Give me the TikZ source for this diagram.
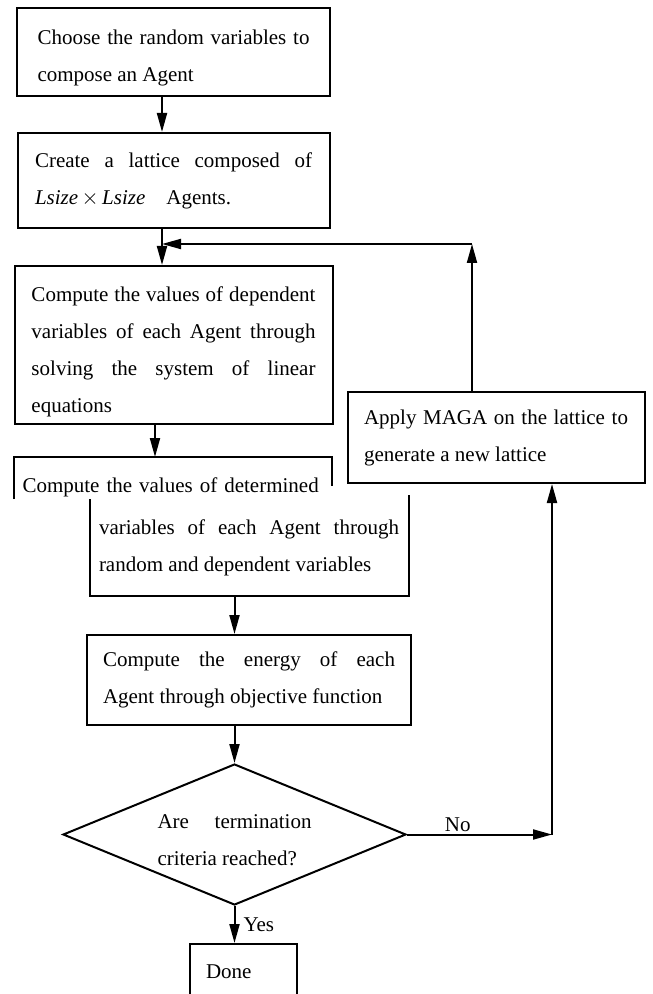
\documentclass[tikz,border=0pt]{standalone}
\usepackage{fontspec}
\setmainfont{Liberation Serif}
\usetikzlibrary{positioning,shapes,arrows.meta}
\newcommand{\topstrut}[1]{\rule{0pt}{#1}}

\begin{document}
\begin{tikzpicture}[%
        x=0.5pt, y=-0.5pt,
        ->,
        >={Triangle[length=9.5pt,width=5pt]},
        line width=1pt,
        node distance=17.5pt,
        every node/.style={font=\fontsize{10.5}{18.5}\selectfont},
        stepbox/.style={%
          rectangle,
          draw,
          align=justify,
          inner sep=0pt
        },
        test/.style={%
          diamond,
          draw,
          align=justify,
          inner sep=0pt,
          shape aspect=2.43,
          text width=77pt,
          minimum width=171.5pt,
          minimum height=70.5pt
        }
      ]
      \useasboundingbox (0,0) rectangle (652,994);
      \clip (0,0) rectangle (652,994);
      \node[stepbox, text width=136pt, minimum width=156.5pt, minimum height=44pt] (choose) at (173.5,52)
        {\topstrut{13pt}Choose the random variables to\linebreak compose an Agent};
      \node[stepbox, text width=138.5pt, minimum width=156pt, minimum height=47.5pt] (create) [below=of choose]
        {Create a lattice composed of\linebreak \textit{Lsize}\,$\times$\,\textit{Lsize}\quad Agents.};
      \node[stepbox, text width=142pt, minimum width=159pt, minimum height=79pt] (calc) [below=18pt of create]
        {\topstrut{14pt}Compute the values of dependent\linebreak variables of each Agent through\linebreak solving the system of linear\linebreak equations};
      % this box is split in two in the figure
      \node[stepbox, draw=none, align=left, text width=150pt, text height=14pt, text depth=0pt,
            minimum width=158pt, minimum height=20pt] (determ) [below right=16pt and 0pt of calc.south west]
        {Compute the values of determined};
      \node[stepbox, draw=none, text width=150pt, minimum width=158.5pt, minimum height=47.5pt] (determrest) [below right=0pt and 38pt of determ.south west]
        {variables of each Agent through\linebreak random and dependent variables};
      \draw[-] (determ.south west) -- (determ.north west) -- (determ.north east) -- ++(0,29);
      \draw[-] (determrest.north west) -- (determrest.south west) -- (determrest.south east) -- ++(0,-101);
      \node[stepbox, text width=146pt, minimum width=162pt, minimum height=45pt] (energy) [below=19pt of determrest]
        {Compute the energy of each\linebreak Agent through objective function};
      \node[test] (dec) [below=18.5pt of energy, xshift=-7.25pt]
        {\topstrut{13pt}Are termination\linebreak criteria reached?};
      \node[stepbox, align=left, text width=37pt, minimum width=53.5pt, minimum height=28pt] (done) [below=18.5pt of dec, xshift=4.25pt]
        {Done};
      \node[stepbox, text width=132pt, minimum width=148.5pt, minimum height=45.5pt] (maga) [right=6.5pt of calc, yshift=-46.25pt]
        {Apply MAGA on the lattice to\linebreak generate a new lattice};

      % main flow
      \coordinate (spine) at (162,0);
      \coordinate (spine2) at (155,0);
      \draw (choose.south -| spine) -- (create.north -| spine);
      \draw (create.south -| spine) -- (calc.north -| spine);
      \draw (calc.south -| spine2) -- (determ.north -| spine2);
      \draw (determrest.south -| dec.north) -- (energy.north -| dec.north);
      \draw (energy.south -| dec.north) -- (dec.north);
      \draw (dec.south) -- node[right, inner sep=4pt, pos=0.5] {Yes} (done.north -| dec.south);

      % loop back
      \coordinate (rx) at (552,0);
      \coordinate (back) at (472,244);
      \draw (dec.east) -- node[above, inner sep=1pt, pos=0.35] {No} (dec.east -| rx);
      \draw (dec.east -| rx) -- (maga.south -| rx);
      \draw (maga.north -| back) -- (back);
      \draw (back) -- (back -| spine);
  \end{tikzpicture}
\end{document}
